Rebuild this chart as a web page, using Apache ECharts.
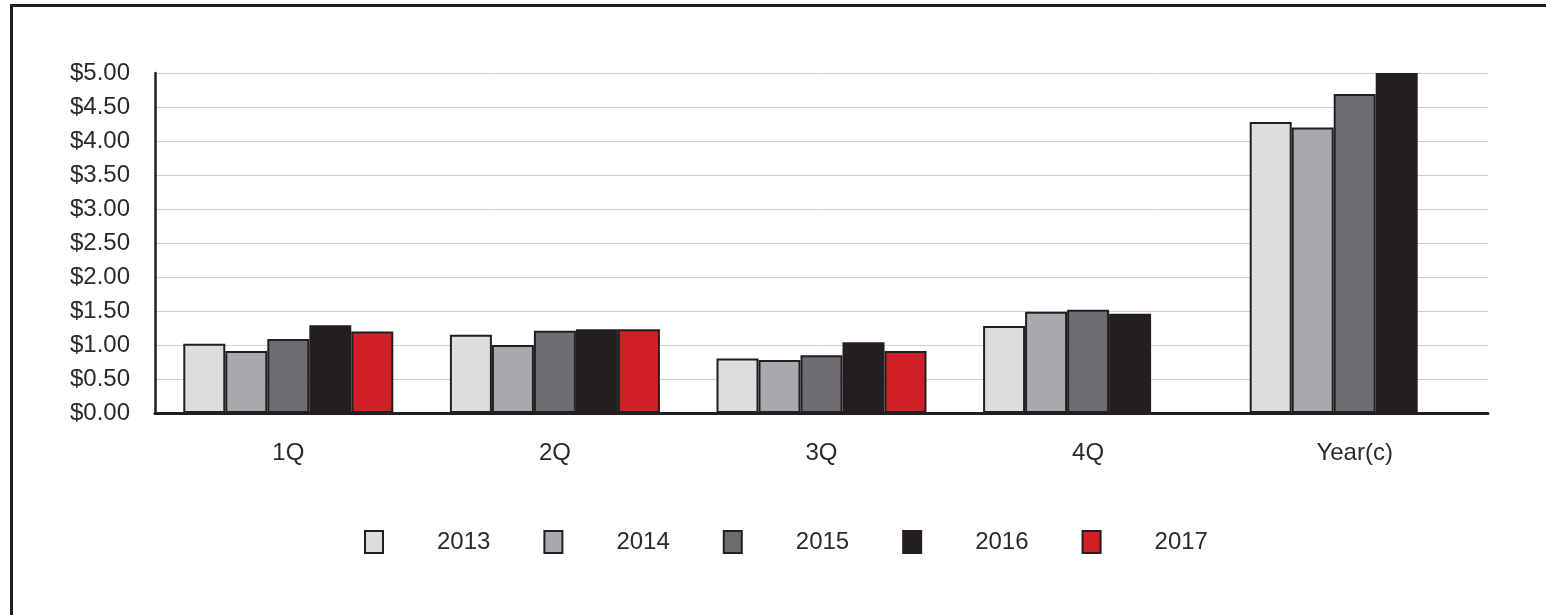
<!DOCTYPE html>
<html>
<head>
<meta charset="utf-8">
<script src="https://cdn.jsdelivr.net/npm/echarts@6/dist/echarts.min.js"></script>
<style>
  html, body { margin: 0; padding: 0; background: #fff; }
  #chart { width: 1546px; height: 615px; }
</style>
</head>
<body>
<div id="chart"></div>
<script>
// Quarterly and full-year earnings per share
const categories = ['1Q', '2Q', '3Q', '4Q', 'Year(c)'];
const years = ['2013', '2014', '2015', '2016', '2017'];
const eps2013 = [1.02, 1.15, 0.80, 1.28, 4.28];
const eps2014 = [0.91, 1.00, 0.78, 1.49, 4.20];
const eps2015 = [1.09, 1.21, 0.85, 1.52, 4.69];
const eps2016 = [1.29, 1.23, 1.04, 1.46, 5.00];
const eps2017 = [1.20, 1.23, 0.91, null, null];
const yTicks = [0, 0.5, 1, 1.5, 2, 2.5, 3, 3.5, 4, 4.5, 5];

const seriesValues = [eps2013, eps2014, eps2015, eps2016, eps2017];
const colors = ['#dcdddf', '#a7a9ac', '#6d6e71', '#231f20', '#d01f25'];
const ink = '#231f20';
const textInk = '#2a2a2a';
const font = 'Liberation Sans, Arial, Helvetica, sans-serif';

const chart = echarts.init(document.getElementById('chart'), null, { renderer: 'canvas' });

chart.setOption({
  animation: false,
  backgroundColor: '#ffffff',
  grid: { left: 155, right: 58, top: 73, bottom: 202, containLabel: false },
  legend: {
    data: years,
    bottom: 56,
    left: 359,
    itemWidth: 18,
    itemHeight: 22,
    itemGap: 53,
    icon: 'rect',
    itemStyle: { borderColor: ink, borderWidth: 2 },
    textStyle: { fontFamily: font, fontSize: 24, color: textInk, padding: [0, 0, 0, 49] }
  },
  xAxis: {
    type: 'category',
    data: categories,
    axisLine: { lineStyle: { color: ink, width: 3 } },
    axisTick: { show: false },
    axisLabel: { fontFamily: font, fontSize: 24, color: textInk, margin: 28 }
  },
  yAxis: {
    type: 'value',
    min: yTicks[0],
    max: yTicks[yTicks.length - 1],
    interval: 0.5,
    axisLine: { show: true, lineStyle: { color: ink, width: 2.5 } },
    axisTick: { show: false },
    splitLine: { lineStyle: { color: '#cfcfcf', width: 1 } },
    axisLabel: {
      fontFamily: font, fontSize: 24, color: textInk, margin: 25,
      showMinLabel: true, showMaxLabel: true, hideOverlap: false,
      formatter: v => '$' + v.toFixed(2)
    }
  },
  series: years.map((y, i) => ({
    name: y,
    type: 'bar',
    data: seriesValues[i],
    barWidth: 42,
    barGap: '0%',
    itemStyle: { color: colors[i], borderColor: ink, borderWidth: 2 }
  })),
  graphic: [
    { type: 'line', shape: { x1: 10, y1: 5.5, x2: 1546, y2: 5.5 }, style: { stroke: ink, lineWidth: 3 } },
    { type: 'line', shape: { x1: 11.5, y1: 4, x2: 11.5, y2: 615 }, style: { stroke: ink, lineWidth: 3 } }
  ]
});
</script>
</body>
</html>
